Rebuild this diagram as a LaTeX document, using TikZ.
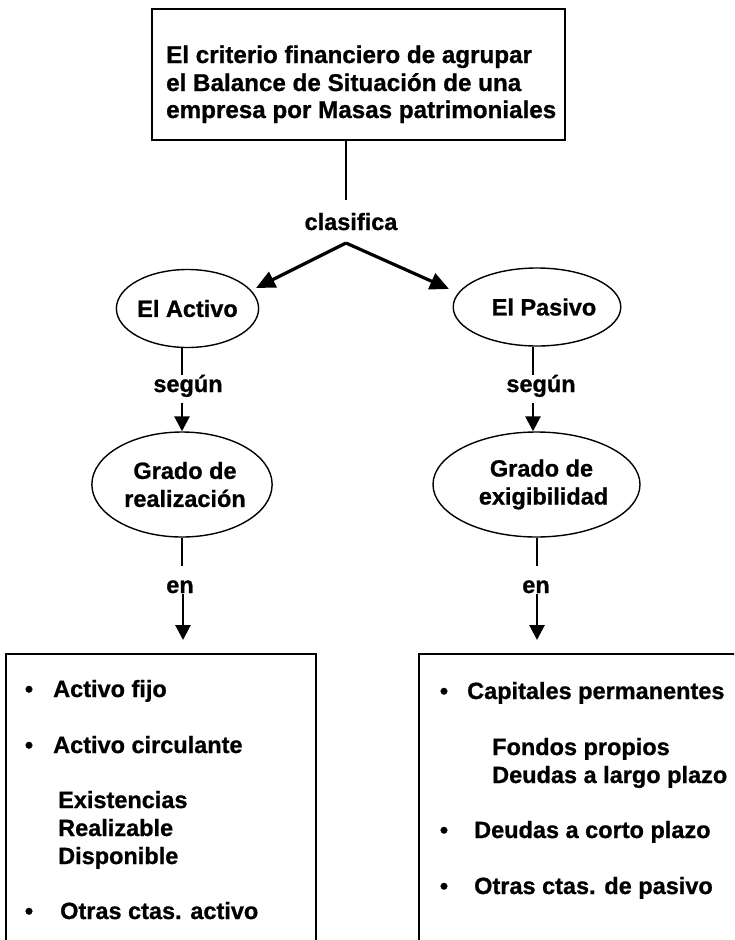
\documentclass[tikz,border=0pt]{standalone}
\usepackage{fontspec}
\setmainfont{Liberation Sans}[BoldFeatures={FakeBold=0.9}]
\usetikzlibrary{arrows.meta,shapes.geometric}
\begin{document}
\begin{tikzpicture}[x=1pt,y=-1pt,
  txt/.style={font=\fontsize{23.5}{28}\selectfont\bfseries, inner sep=0pt},
  toptxt/.style={font=\fontsize{24.2}{28}\selectfont\bfseries, inner sep=0pt},
  oval/.style={draw, ellipse, line width=1.4pt, inner sep=0pt, align=center,
               font=\fontsize{23.5}{28}\selectfont\bfseries},
  boxx/.style={draw, line width=2.6pt, inner sep=0pt},
  thinline/.style={line width=1.5pt},
  bigarrow/.style={line width=3.2pt, -{Triangle[length=19pt,width=17pt]}},
  smallarrow/.style={line width=2.8pt, -{Triangle[length=15pt,width=15pt]}}
]
\useasboundingbox (0,0) rectangle (734,940);
\clip (0,0) rectangle (734,940);

% top box
\node[boxx, minimum width=413pt, minimum height=131pt] (top) at (358.5,74.5) {};
\node[toptxt, anchor=base west] (t1) at (166,63) {El criterio financiero de agrupar};
\node[toptxt, anchor=base west] (t2) at (166,91) {el Balance de Situación de una};
\node[toptxt, anchor=base west] (t3) at (166,118) {empresa por Masas patrimoniales};

% clasifica
\node[txt, anchor=base] (cl) at (351,230) {clasifica};
\coordinate (fork) at (346,243);
\draw[thinline] (top.south -| fork) -- (fork |- 0,200);

% ellipses level 1
\node[oval, minimum width=141pt, minimum height=78pt] (act) at (187.5,308.5) {El Activo};
\node[oval, minimum width=150pt, minimum height=78pt] (pas) at (537,307) {\hspace*{14pt}El Pasivo};
\coordinate (actTip) at (256,288);
\coordinate (pasTip) at (449,289);
\draw[bigarrow] (fork) -- (actTip);
\draw[bigarrow] (fork) -- (pasTip);

% según
\node[txt, anchor=base] (seg1) at (188,392) {según};
\node[txt, anchor=base] (seg2) at (541,392) {según};

% ellipses level 2
\node[oval, minimum width=180pt, minimum height=105pt] (gr1) at (182,484.5) {\hspace*{6pt}Grado de\\\hspace*{6pt}realización};
\node[oval, minimum width=207pt, minimum height=105pt] (gr2) at (536.5,484.5) {\hspace*{10pt}Grado de\\\hspace*{14pt}exigibilidad};

\draw[thinline] (act.south -| 182,0) -- (182,375);
\draw[thinline] (pas.south -| 533,0) -- (533,375);
\draw[smallarrow] (182,403) -- (gr1.north);
\draw[smallarrow] (533,403) -- (gr1.north -| 533,0);

% en
\node[txt, anchor=base] (en1) at (180,593) {en};
\node[txt, anchor=base] (en2) at (536,593) {en};

% bottom boxes
\node[boxx, minimum width=310pt, minimum height=300pt] (boxL) at (161,804) {};
\node[boxx, minimum width=330pt, minimum height=300pt] (boxR) at (584,804) {};

\draw[thinline] (gr1.south -| 182,0) -- (182,566);
\draw[thinline] (gr2.south -| 537,0) -- (537,566);
\draw[smallarrow] (183,594) -- (183,640);
\draw[smallarrow] (537,594) -- (537,640);

% left list
\node[txt, anchor=base] (bl1) at (29,697) {•};
\node[txt, anchor=base west] (l1) at (53,697) {Activo fijo};
\node[txt, anchor=base] (bl2) at (29,753) {•};
\node[txt, anchor=base west] (l2) at (53,753) {Activo circulante};
\node[txt, anchor=base west] (l3) at (58,808) {Existencias};
\node[txt, anchor=base west] (l4) at (58,836) {Realizable};
\node[txt, anchor=base west] (l5) at (58,864) {Disponible};
\node[txt, anchor=base] (bl3) at (29,919) {•};
\node[txt, anchor=base west] (l6) at (60,919) {Otras ctas. activo};

% right list
\node[txt, anchor=base] (br1) at (444,699) {•};
\node[txt, anchor=base west] (r1) at (467,699) {Capitales permanentes};
\node[txt, anchor=base west] (r2) at (492,755) {Fondos propios};
\node[txt, anchor=base west] (r3) at (492,783) {Deudas a largo plazo};
\node[txt, anchor=base] (br2) at (444,838) {•};
\node[txt, anchor=base west] (r4) at (474,838) {Deudas a corto plazo};
\node[txt, anchor=base] (br3) at (444,894) {•};
\node[txt, anchor=base west] (r5) at (474,894) {Otras ctas. de pasivo};
\end{tikzpicture}
\end{document}
